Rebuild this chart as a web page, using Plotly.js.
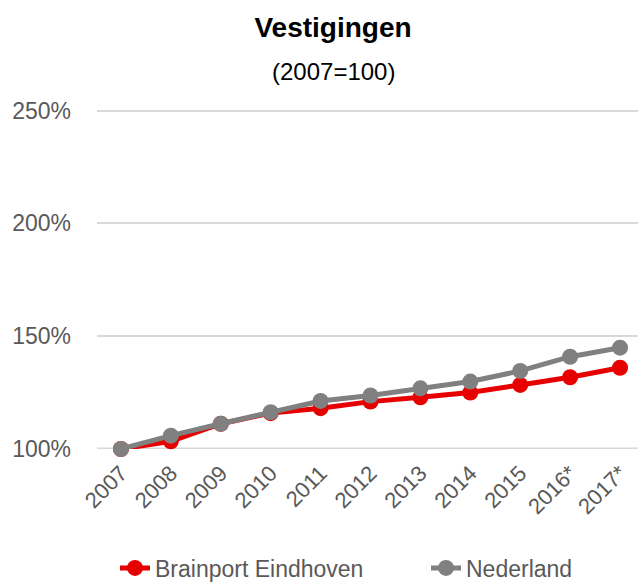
<!DOCTYPE html>
<html>
<head>
<meta charset="utf-8">
<script src="https://cdn.plot.ly/plotly-3.0.1.min.js"></script>
<style>html,body{margin:0;padding:0;background:#fff;}#chart{width:638px;height:583px;}</style>
</head>
<body>
<div id="chart"></div>
<script>
const years = ["2007","2008","2009","2010","2011","2012","2013","2014","2015","2016*","2017*"];
const brainport = [100, 103.4, 111.2, 115.9, 118.1, 121.0, 122.9, 125.0, 128.4, 131.8, 136.0];
const nederland = [100, 105.9, 111.2, 116.3, 121.3, 123.7, 126.9, 129.9, 134.6, 140.9, 144.9];
const yTicks = [100, 150, 200, 250];
const yTickLabels = ["100%", "150%", "200%", "250%"];

const FONT = "'Liberation Sans', Arial, sans-serif";

const traces = [
  {
    x: years, y: brainport, name: "Brainport Eindhoven",
    type: "scatter", mode: "lines+markers",
    line: {color: "#e60000", width: 5},
    marker: {color: "#e60000", size: 16},
    cliponaxis: false, legend: "legend"
  },
  {
    x: years, y: nederland, name: "Nederland",
    type: "scatter", mode: "lines+markers",
    line: {color: "#808080", width: 5},
    marker: {color: "#808080", size: 16},
    cliponaxis: false, legend: "legend2"
  }
];

const legendBase = {
  orientation: "h", xanchor: "left",
  yref: "container", y: 1 - 568/583, yanchor: "middle",
  font: {size: 23, color: "#595959"},
  bgcolor: "rgba(0,0,0,0)"
};

const layout = {
  width: 638, height: 583,
  margin: {l: 97, r: 0, t: 88, b: 134, autoexpand: false},
  paper_bgcolor: "#fff", plot_bgcolor: "#fff",
  font: {family: FONT, color: "#595959", size: 23},
  title: {
    text: "<b>Vestigingen</b>",
    font: {family: FONT, size: 28, color: "#000"},
    x: 333/638, xanchor: "center", xref: "container",
    y: 1 - 27/583, yanchor: "middle", yref: "container"
  },
  annotations: [{
    text: "(2007=100)", xref: "paper", yref: "paper",
    x: (333-97)/541, y: (449-71)/361, xanchor: "center", yanchor: "middle",
    showarrow: false, font: {family: FONT, size: 24, color: "#000"}
  }],
  xaxis: {
    type: "category",
    range: [-0.48, 10.36],
    tickangle: -45,
    showgrid: false, zeroline: false, showline: false,
    ticks: "", ticklabelstandoff: 6,
    tickfont: {size: 22, color: "#595959"},
    automargin: false,
    fixedrange: true
  },
  yaxis: {
    range: [100, 260],
    tickvals: yTicks, ticktext: yTickLabels,
    showgrid: true, gridcolor: "#d9d9d9", gridwidth: 2,
    zeroline: false, showline: false, ticks: "",
    ticklabelstandoff: 25,
    tickfont: {size: 23, color: "#595959"},
    automargin: false,
    fixedrange: true
  },
  shapes: [{
    type: "line", xref: "paper", yref: "y", x0: 0, x1: 1, y0: 100, y1: 100,
    line: {color: "#d9d9d9", width: 3}, layer: "below"
  }],
  showlegend: true,
  legend: Object.assign({}, legendBase, {xref: "container", x: 115/638}),
  legend2: Object.assign({}, legendBase, {xref: "container", x: 426/638})
};

Plotly.newPlot("chart", traces, layout, {displayModeBar: false, staticPlot: true});
</script>
</body>
</html>
